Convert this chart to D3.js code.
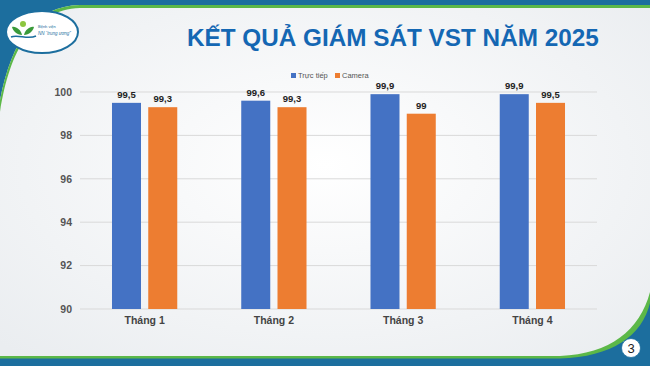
<!DOCTYPE html>
<html lang="vi">
<head>
<meta charset="UTF-8">
<title>Kết quả giám sát VST năm 2025</title>
<script src="https://d3js.org/d3.v7.min.js"></script>
<style>
  body { margin: 0; background: #fff; }
  svg { display: block; font-family: "Liberation Sans", Arial, sans-serif; }
</style>
</head>
<body>
<script>
  // data
  const months = ["Tháng 1", "Tháng 2", "Tháng 3", "Tháng 4"];
  const series = ["Trực tiếp", "Camera"];
  const trucTiep = [99.5, 99.6, 99.9, 99.9];
  const camera = [99.3, 99.3, 99.0, 99.5];
  const yTicks = [90, 92, 94, 96, 98, 100];
  const colors = ["#4472C4", "#ED7D31"];

  const width = 650, height = 366;
  const rows = months.map((m, i) => ({ month: m, values: [trucTiep[i], camera[i]] }));

  const svg = d3.select("body").append("svg")
      .attr("width", width)
      .attr("height", height);

  // slide background
  const defs = svg.append("defs");
  const bg = defs.append("radialGradient").attr("id", "bg")
      .attr("cx", "50%").attr("cy", "45%").attr("r", "70%");
  bg.append("stop").attr("offset", "0%").attr("stop-color", "#ffffff");
  bg.append("stop").attr("offset", "100%").attr("stop-color", "#eaedf0");
  svg.append("rect").attr("width", width).attr("height", height).attr("fill", "url(#bg)");

  // top band + left curve
  svg.append("path")
      .attr("d", "M0,0 H650 V5 H80 C35,6 12,40 0,100 Z")
      .attr("fill", "#1c6e9e");
  svg.append("path")
      .attr("d", "M650,5 H80 C35,6 12,40 0,100 V112 C10,50 32,10 80,8 H650 Z")
      .attr("fill", "#5cb848");

  // bottom band + right curve
  svg.append("path")
      .attr("d", "M0,356 H560 C610,354 640,330 650,292 V366 H0 Z")
      .attr("fill", "#5cb848");
  svg.append("path")
      .attr("d", "M0,358.5 H560 C612,357 642,336 650,303 V366 H0 Z")
      .attr("fill", "#1c6e9e");
  svg.append("circle").attr("cx", 631).attr("cy", 348).attr("r", 9.5)
      .attr("fill", "#fff").attr("stroke", "#1c6e9e").attr("stroke-width", 0.8);
  svg.append("text").attr("x", 631).attr("y", 353)
      .attr("text-anchor", "middle").attr("font-size", 13).attr("fill", "#222")
      .text("3");

  // logo
  const logo = svg.append("g");
  logo.append("ellipse").attr("cx", 42).attr("cy", 32).attr("rx", 36).attr("ry", 21)
      .attr("fill", "#fff").attr("stroke", "#1c6e9e").attr("stroke-width", 2);
  logo.append("circle").attr("cx", 23).attr("cy", 24).attr("r", 3).attr("fill", "#8cc63f");
  logo.append("path").attr("d", "M12,27 C16,26 21,30 22,35 C17,35 13,31 12,27 Z").attr("fill", "#3a9a3a");
  logo.append("path").attr("d", "M34,27 C30,26 25,30 24,35 C29,35 33,31 34,27 Z").attr("fill", "#3a9a3a");
  logo.append("path").attr("d", "M11,37 C18,34 28,40 36,36").attr("fill", "none")
      .attr("stroke", "#1c6e9e").attr("stroke-width", 1.5);
  logo.append("text").attr("x", 38).attr("y", 28).attr("font-size", 4).attr("fill", "#1c6e9e").text("Bệnh viện");
  logo.append("text").attr("x", 38).attr("y", 35).attr("font-size", 4.5).attr("fill", "#1c6e9e")
      .attr("font-style", "italic").text("NN “trung ương”");

  // title
  svg.append("text")
      .attr("x", 187).attr("y", 46)
      .attr("font-size", 24.3).attr("font-weight", "bold").attr("fill", "#1467b3")
      .text("KẾT QUẢ GIÁM SÁT VST NĂM 2025");

  // scales
  const x0 = d3.scaleBand().domain(months).range([80, 597])
      .paddingInner(0.495).paddingOuter(0.2475);
  const x1 = d3.scaleBand().domain(series).range([0, x0.bandwidth()]).paddingInner(0.2);
  const y = d3.scaleLinear().domain([90, 100]).range([309, 92]);

  // grid
  svg.append("g").selectAll("line").data(yTicks).join("line")
      .attr("x1", 80).attr("x2", 597)
      .attr("y1", d => y(d)).attr("y2", d => y(d))
      .attr("stroke", "#d9d9d9").attr("stroke-width", 1);

  // y axis labels
  const yAxis = svg.append("g").attr("transform", "translate(80,0)")
      .call(d3.axisLeft(y).tickValues(yTicks).tickSize(0).tickPadding(8));
  yAxis.select(".domain").remove();
  yAxis.selectAll("text").attr("font-size", 10.5).attr("font-weight", "bold")
      .attr("fill", "#555").attr("font-family", "Liberation Sans, Arial, sans-serif");

  // x axis labels
  const xAxis = svg.append("g").attr("transform", "translate(0,309)")
      .call(d3.axisBottom(x0).tickSize(0).tickPadding(8));
  xAxis.select(".domain").remove();
  xAxis.selectAll("text").attr("font-size", 10.5).attr("font-weight", "bold")
      .attr("fill", "#444").attr("font-family", "Liberation Sans, Arial, sans-serif");

  // bars
  const groups = svg.append("g").selectAll("g").data(rows).join("g")
      .attr("transform", d => `translate(${x0(d.month)},0)`);
  groups.selectAll("rect").data(d => d.values.map((v, i) => ({ s: series[i], v, i }))).join("rect")
      .attr("x", d => x1(d.s))
      .attr("y", d => y(d.v))
      .attr("width", x1.bandwidth())
      .attr("height", d => y(90) - y(d.v))
      .attr("fill", d => colors[d.i]);
  groups.selectAll("text").data(d => d.values.map((v, i) => ({ s: series[i], v, i }))).join("text")
      .attr("x", d => x1(d.s) + x1.bandwidth() / 2)
      .attr("y", d => y(d.v) - 5)
      .attr("text-anchor", "middle")
      .attr("font-size", 9.5).attr("font-weight", "bold").attr("fill", "#222")
      .text(d => String(d.v % 1 === 0 ? d.v.toFixed(0) : d.v).replace(".", ","));

  // legend
  const legend = svg.append("g").attr("transform", "translate(291,76)");
  const legX = [0, 44];
  series.forEach((s, i) => {
    legend.append("rect").attr("x", legX[i]).attr("y", -3).attr("width", 5).attr("height", 5)
        .attr("fill", colors[i]);
    legend.append("text").attr("x", legX[i] + 7).attr("y", 2)
        .attr("font-size", 7.5).attr("fill", "#555").text(s);
  });
</script>
</body>
</html>
